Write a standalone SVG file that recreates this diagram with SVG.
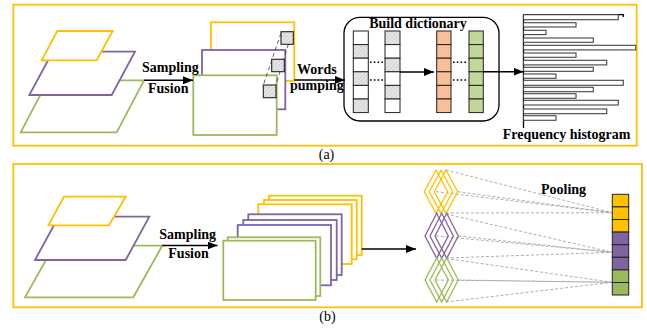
<svg xmlns="http://www.w3.org/2000/svg" width="647" height="331" viewBox="0 0 647 331">
<defs>
<marker id="ah" markerWidth="10" markerHeight="8" refX="10" refY="4" orient="auto" markerUnits="userSpaceOnUse">
<path d="M0,0 L10,4 L0,8 Z" fill="#000"/>
</marker>
<pattern id="hatch" width="3" height="3" patternUnits="userSpaceOnUse" patternTransform="rotate(45)">
<rect width="3" height="3" fill="#e6e6e6"/>
<line x1="0" y1="0" x2="0" y2="3" stroke="#bdbdbd" stroke-width="1"/>
</pattern>
<style>
.panel{fill:none;stroke:#FFC000;stroke-width:1.8}
.y{fill:#fff;stroke:#FFC000;stroke-width:1.8}
.p{fill:#fff;stroke:#8064A2;stroke-width:1.8}
.g{fill:#fff;stroke:#9BBB59;stroke-width:1.8}
.yo{fill:none;stroke:#FFC000;stroke-width:1.3}
.po{fill:none;stroke:#8064A2;stroke-width:1.3}
.go{fill:none;stroke:#9BBB59;stroke-width:1.3}
.lbl{font-family:"Liberation Serif","Times New Roman",serif;font-weight:bold;font-size:14px;fill:#000}
.cap{font-family:"Liberation Serif","Times New Roman",serif;font-size:14px;fill:#000}
.arr{stroke:#000;stroke-width:1.6;fill:none;marker-end:url(#ah)}
.ln{stroke:#000;stroke-width:1.3;fill:none}
.cell{stroke:#222;stroke-width:1}
.wh{fill:#fff}
.ht{fill:url(#hatch)}
.or{fill:#F8C09A}
.gr{fill:#C4D79B}
.bar{fill:#fff;stroke:#444;stroke-width:1.1}
.dash{stroke:#999;stroke-width:0.8;stroke-dasharray:3,2;fill:none}
.dots{stroke:#000;stroke-width:1.6;stroke-dasharray:1.6,2.2;fill:none}
.sq{fill:url(#hatch);stroke:#222;stroke-width:1.1}
.sqd{stroke:#333;stroke-width:0.8;stroke-dasharray:4,3;fill:none}
</style>
</defs>

<!-- Panel borders -->
<rect id="panel-a" class="panel" x="13.3" y="4.7" width="623.4" height="141"/>
<rect id="panel-b" class="panel" x="13.3" y="164" width="628.7" height="143.3"/>

<!-- Panel (a) -->
<g id="a-layers">
<polygon class="g" points="48,80.3 144,80.3 116.7,132.3 20.7,132.3"/>
<polygon class="p" points="52.7,51.7 135,51.7 111.7,95 29.3,95"/>
<polygon class="y" points="57.3,31 112.7,31 96.7,60.3 41.7,60.3"/>
</g>

<g id="a-stack">
<rect class="y" x="211" y="22.3" width="83.3" height="58.7"/>
<rect class="p" x="202" y="50" width="83.3" height="59.3"/>
<rect class="g" x="193.3" y="75.3" width="83.4" height="59.7"/>
<line class="sqd" x1="281" y1="33.3" x2="263.3" y2="85"/>
<line class="sqd" x1="288.3" y1="44.3" x2="276" y2="85"/>
<rect class="sq" x="281" y="31.7" width="12.3" height="12.6"/>
<rect class="sq" x="271.7" y="59.3" width="12.6" height="12.4"/>
<rect class="sq" x="263.3" y="85" width="12.7" height="12.7"/>
</g>

<g id="a-dictionary">
<rect x="344" y="17.3" width="155" height="103.7" rx="16" ry="16" fill="#fff" stroke="#000" stroke-width="1.3"/>
<text class="lbl" x="418" y="28.3" text-anchor="middle">Build dictionary</text>
<g id="col1">
<rect class="cell wh" x="353.3" y="31" width="15" height="13.6"/>
<rect class="cell ht" x="353.3" y="44.6" width="15" height="13.6"/>
<rect class="cell wh" x="353.3" y="58.2" width="15" height="13.6"/>
<rect class="cell ht" x="353.3" y="71.8" width="15" height="13.6"/>
<rect class="cell wh" x="353.3" y="85.4" width="15" height="13.6"/>
<rect class="cell ht" x="353.3" y="99" width="15" height="13.6"/>
</g>
<g id="col2">
<rect class="cell ht" x="385" y="31" width="15" height="13.6"/>
<rect class="cell wh" x="385" y="44.6" width="15" height="13.6"/>
<rect class="cell ht" x="385" y="58.2" width="15" height="13.6"/>
<rect class="cell wh" x="385" y="71.8" width="15" height="13.6"/>
<rect class="cell ht" x="385" y="85.4" width="15" height="13.6"/>
<rect class="cell wh" x="385" y="99" width="15" height="13.6"/>
</g>
<line class="dots" x1="370" y1="62.3" x2="383" y2="62.3"/>
<line class="dots" x1="370" y1="80" x2="383" y2="80"/>
<g id="col3">
<rect class="cell or" x="436.7" y="31" width="14.3" height="13.6"/>
<rect class="cell or" x="436.7" y="44.6" width="14.3" height="13.6"/>
<rect class="cell or" x="436.7" y="58.2" width="14.3" height="13.6"/>
<rect class="cell or" x="436.7" y="71.8" width="14.3" height="13.6"/>
<rect class="cell or" x="436.7" y="85.4" width="14.3" height="13.6"/>
<rect class="cell or" x="436.7" y="99" width="14.3" height="13.6"/>
</g>
<line class="dots" x1="453" y1="62.3" x2="466" y2="62.3"/>
<line class="dots" x1="453" y1="80" x2="466" y2="80"/>
<g id="col4">
<rect class="cell gr" x="469" y="31" width="14.3" height="13.6"/>
<rect class="cell gr" x="469" y="44.6" width="14.3" height="13.6"/>
<rect class="cell gr" x="469" y="58.2" width="14.3" height="13.6"/>
<rect class="cell gr" x="469" y="71.8" width="14.3" height="13.6"/>
<rect class="cell gr" x="469" y="85.4" width="14.3" height="13.6"/>
<rect class="cell gr" x="469" y="99" width="14.3" height="13.6"/>
</g>
</g>

<g id="a-histogram">
<line class="ln" x1="523.5" y1="14.5" x2="523.5" y2="128" stroke-width="1.7"/>
<polyline class="ln" points="523.5,14.7 623.3,14.7 623.3,17" stroke-width="1.2"/>
<rect class="bar" x="523.5" y="14.7" width="94.8" height="5"/>
<rect class="bar" x="523.5" y="22.7" width="52.5" height="4.3"/>
<rect class="bar" x="523.5" y="30.3" width="22.5" height="4.3"/>
<rect class="bar" x="523.5" y="38" width="69.8" height="4.3"/>
<rect class="bar" x="523.5" y="45.3" width="112.2" height="4.6"/>
<rect class="bar" x="523.5" y="53" width="52.5" height="4.3"/>
<rect class="bar" x="523.5" y="60.3" width="83.2" height="4.6"/>
<rect class="bar" x="523.5" y="67.3" width="69.8" height="4"/>
<rect class="bar" x="523.5" y="74" width="32.5" height="4.3"/>
<rect class="bar" x="523.5" y="80.3" width="99.8" height="5"/>
<rect class="bar" x="523.5" y="87.3" width="69.8" height="4.4"/>
<rect class="bar" x="523.5" y="93.7" width="52.5" height="4.6"/>
<rect class="bar" x="523.5" y="100.3" width="94.8" height="4.7"/>
<rect class="bar" x="523.5" y="109" width="83.2" height="4.7"/>
<rect class="bar" x="523.5" y="115.7" width="32.5" height="4.6"/>
<text class="lbl" x="502.7" y="139.3">Frequency histogram</text>
</g>

<g id="a-connectors">
<line class="arr" x1="144" y1="80.3" x2="193" y2="80.3"/>
<line class="arr" x1="294.3" y1="80" x2="345" y2="80"/>
<line class="arr" x1="400" y1="72" x2="434" y2="72"/>
<line class="arr" x1="483.3" y1="71.7" x2="523.5" y2="71.7"/>
</g>
<text class="lbl" x="142" y="72.3">Sampling</text>
<text class="lbl" x="148" y="93.3">Fusion</text>
<text class="lbl" x="297" y="74">Words</text>
<text class="lbl" x="290" y="89.5">pumping</text>
<text class="cap" x="326.5" y="159" text-anchor="middle">(a)</text>

<!-- Panel (b) -->
<g id="b-layers">
<polygon class="g" points="54,245.7 162.3,245.7 133.3,297.3 25,297.3"/>
<polygon class="p" points="58.6,216.7 149.3,216.7 125.7,260 35,260"/>
<polygon class="y" points="64,196.7 125.7,196.7 109,225.3 48.3,225.3"/>
</g>

<g id="b-stack">
<rect class="y" x="269" y="195.7" width="92.7" height="59.3"/>
<rect class="y" x="264" y="200" width="92.7" height="59.3"/>
<rect class="y" x="258.3" y="204.3" width="93.4" height="59.7"/>
<rect class="p" x="248.3" y="214.3" width="93.4" height="60.7"/>
<rect class="p" x="243.3" y="220" width="93.4" height="60"/>
<rect class="p" x="237.7" y="225" width="93.3" height="60.3"/>
<rect class="g" x="227.7" y="237.3" width="92.6" height="58.7"/>
<rect class="g" x="223.3" y="240.7" width="92.4" height="59.3"/>
</g>

<g id="b-pool-lines">
<line class="dash" x1="446" y1="170" x2="612.3" y2="212.7"/>
<line class="dash" x1="436" y1="191.7" x2="612.3" y2="212.7"/>
<line class="dash" x1="457.7" y1="191.7" x2="612.3" y2="212.7"/>
<line class="dash" x1="446" y1="213" x2="612.3" y2="212.7"/>
<line class="dash" x1="446" y1="214" x2="612.3" y2="252.3"/>
<line class="dash" x1="436" y1="236" x2="612.3" y2="252.3"/>
<line class="dash" x1="458.3" y1="236" x2="612.3" y2="252.3"/>
<line class="dash" x1="446" y1="258" x2="612.3" y2="252.3"/>
<line class="dash" x1="446" y1="258.5" x2="612.3" y2="282.3"/>
<line class="dash" x1="436" y1="280" x2="612.3" y2="282.3"/>
<line class="dash" x1="458.3" y1="280" x2="612.3" y2="282.3"/>
<line class="dash" x1="446" y1="302" x2="612.3" y2="282.3"/>
</g>

<g id="b-diamonds">
<g id="dia-yellow">
<polygon class="yo" points="436,170 447.7,191.7 436,213.3 424.3,191.7"/>
<polygon class="yo" points="441,170 452.7,191.7 441,213.3 429.3,191.7"/>
<polygon class="yo" points="446,170 457.7,191.7 446,213.3 434.3,191.7"/>
</g>
<g id="dia-purple">
<polygon class="po" points="436.7,213.3 448.3,236 436.7,258.3 425,236"/>
<polygon class="po" points="441.7,213.3 453.3,236 441.7,258.3 430,236"/>
<polygon class="po" points="446.7,213.3 458.3,236 446.7,258.3 435,236"/>
</g>
<g id="dia-green">
<polygon class="go" points="436.7,258 448.3,280 436.7,302 425,280"/>
<polygon class="go" points="441.7,258 453.3,280 441.7,302 430,280"/>
<polygon class="go" points="446.7,258 458.3,280 446.7,302 435,280"/>
</g>
</g>

<g id="b-vector">
<rect class="cell" fill="#FFC000" x="612.3" y="194.3" width="16.4" height="12.6"/>
<rect class="cell" fill="#FFC000" x="612.3" y="206.9" width="16.4" height="12.6"/>
<rect class="cell" fill="#FFC000" x="612.3" y="219.5" width="16.4" height="12.6"/>
<rect class="cell" fill="#8064A2" x="612.3" y="232.1" width="16.4" height="12.6"/>
<rect class="cell" fill="#8064A2" x="612.3" y="244.7" width="16.4" height="12.6"/>
<rect class="cell" fill="#8064A2" x="612.3" y="257.3" width="16.4" height="12.6"/>
<rect class="cell" fill="#9BBB59" x="612.3" y="269.9" width="16.4" height="12.6"/>
<rect class="cell" fill="#9BBB59" x="612.3" y="282.5" width="16.4" height="12.5"/>
</g>

<g id="b-connectors">
<line class="arr" x1="162.3" y1="245.5" x2="217.5" y2="245.5"/>
<line class="arr" x1="361.7" y1="249" x2="416" y2="249"/>
</g>
<text class="lbl" x="159.3" y="239">Sampling</text>
<text class="lbl" x="168.3" y="258.3">Fusion</text>
<text class="lbl" x="541" y="194">Pooling</text>
<text class="cap" x="327.5" y="321" text-anchor="middle">(b)</text>
</svg>
